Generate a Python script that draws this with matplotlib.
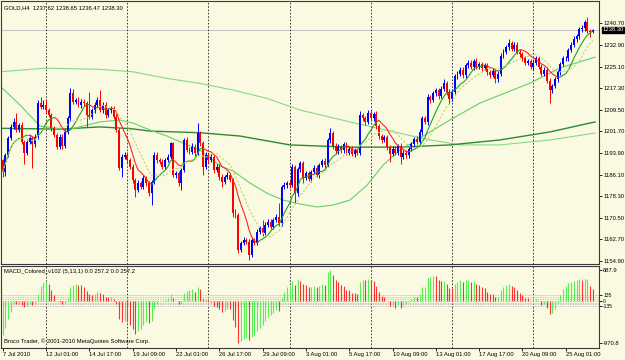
import numpy as np
import pandas as pd
import matplotlib
matplotlib.use("Agg")
import matplotlib.pyplot as plt
from matplotlib.collections import LineCollection
from matplotlib import transforms

plt.rcParams['font.family'] = ['Liberation Sans', 'DejaVu Sans']

# ---------------- data ----------------
first_open = 1191.4
closes = [
    1187.1, 1193.2, 1199.2, 1203.4, 1205.2, 1202.2, 1204.0, 1198.0, 1193.8, 1198.0,
    1199.2, 1197.0, 1199.8, 1211.8, 1210.6, 1211.2, 1209.4, 1207.6, 1202.8, 1200.4,
    1196.2, 1199.8, 1196.4, 1201.6, 1206.4, 1215.4, 1212.4, 1213.0, 1211.2, 1212.4,
    1211.8, 1207.6, 1207.0, 1209.4, 1211.2, 1213.0, 1209.4, 1211.2, 1207.6, 1209.4,
    1210.0, 1207.0, 1202.2, 1188.4, 1192.6, 1193.2, 1191.3, 1189.0, 1184.1, 1180.5,
    1183.0, 1181.7, 1184.7, 1183.0, 1179.3, 1183.5, 1193.2, 1191.3, 1190.7, 1189.0,
    1191.3, 1192.6, 1197.4, 1185.9, 1186.5, 1182.9, 1187.7, 1198.6, 1195.0, 1194.4,
    1196.2, 1193.8, 1201.0, 1197.4, 1188.9, 1193.2, 1191.3, 1192.6, 1187.7, 1189.0,
    1185.3, 1183.5, 1185.3, 1185.9, 1184.1, 1172.1, 1171.5, 1158.9, 1161.3, 1162.5,
    1161.9, 1157.1, 1162.5, 1161.5, 1165.5, 1166.7, 1164.9, 1167.9, 1169.1, 1167.3,
    1169.7, 1170.9, 1168.5, 1181.7, 1182.3, 1182.9, 1182.3, 1188.9, 1179.3, 1188.0,
    1190.2, 1185.0, 1186.5, 1184.5, 1187.0, 1188.5, 1186.0, 1189.5, 1191.0, 1189.5,
    1198.5, 1201.0, 1196.5, 1194.5, 1196.0, 1194.8, 1197.0, 1194.0, 1195.5, 1193.5,
    1195.0, 1194.0, 1207.5, 1206.5, 1205.0, 1208.5, 1206.5, 1208.0, 1203.5, 1200.0,
    1198.5, 1199.5, 1196.0, 1193.5, 1195.5, 1194.0, 1196.5, 1192.5, 1194.0, 1193.0,
    1195.5, 1197.0, 1199.0, 1198.0, 1201.5, 1206.5, 1205.0, 1214.0, 1213.0, 1215.5,
    1216.5, 1214.5, 1217.0, 1219.0, 1216.0, 1213.5, 1216.0, 1221.5, 1222.5, 1224.0,
    1222.0, 1225.5, 1226.5, 1225.0, 1227.0, 1225.0, 1226.0, 1224.5, 1225.5, 1223.0,
    1222.0, 1223.5, 1220.5, 1222.5, 1229.0, 1230.5, 1232.0, 1233.5, 1231.5, 1233.0,
    1230.5, 1229.5, 1228.0, 1226.5, 1227.0, 1225.0, 1226.5, 1228.0, 1225.0, 1222.5,
    1224.0, 1220.0, 1216.5, 1218.0, 1220.5, 1223.0, 1226.0, 1228.0, 1228.0, 1231.0,
    1233.0, 1235.0, 1236.0, 1238.5, 1239.0, 1241.0, 1238.0, 1237.62, 1238.3,
]
upper_wick = [
    0.5, 0.8, 0.9, 0.8, 1.2, 3.0, 0.8, 0.9, 0.7, 0.9,
    0.8, 1.0, 0.8, 1.2, 2.4, 1.8, 2.0, 0.9, 0.8, 0.8,
    0.7, 0.9, 0.9, 0.8, 0.9, 1.8, 1.5, 0.9, 1.2, 0.8,
    0.9, 0.8, 8.4, 0.9, 1.0, 1.2, 3.6, 1.0, 1.2, 0.9,
    1.0, 0.8, 0.8, 0.7, 0.8, 1.2, 0.9, 0.7, 0.8, 0.6,
    1.0, 0.9, 1.2, 0.8, 0.7, 0.8, 1.0, 1.2, 0.8, 0.9,
    0.8, 1.0, 0.6, 0.5, 1.0, 0.8, 0.9, 0.8, 1.0, 0.9,
    1.2, 0.8, 3.6, 0.9, 0.7, 1.0, 0.8, 0.9, 0.7, 1.0,
    0.8, 0.9, 0.8, 1.0, 0.9, 0.6, 1.5, 0.6, 0.9, 1.0,
    0.8, 0.8, 1.0, 0.8, 1.0, 0.9, 3.0, 1.0, 0.9, 0.8,
    0.9, 1.0, 4.8, 0.8, 1.0, 0.9, 1.2, 1.0, 0.8, 1.0,
    0.9, 0.8, 0.9, 1.0, 0.8, 0.9, 1.0, 0.8, 0.9, 1.0,
    0.9, 2.0, 0.8, 0.9, 1.0, 0.8, 0.9, 1.0, 0.8, 0.9,
    0.8, 0.9, 1.5, 0.9, 0.8, 1.0, 0.9, 0.8, 0.9, 1.0,
    0.8, 0.9, 1.0, 0.8, 0.9, 1.0, 0.8, 0.9, 1.0, 0.8,
    0.9, 1.0, 0.8, 0.9, 1.0, 0.8, 0.9, 1.2, 0.8, 0.9,
    1.0, 0.8, 0.9, 1.5, 0.8, 0.9, 1.0, 0.8, 0.9, 1.0,
    0.8, 0.9, 1.0, 0.8, 0.9, 1.0, 0.8, 0.9, 1.0, 0.8,
    0.9, 1.0, 0.8, 0.9, 1.0, 0.8, 1.0, 1.5, 0.8, 0.9,
    1.0, 0.8, 0.9, 1.0, 0.8, 0.9, 1.0, 0.8, 0.9, 1.0,
    0.8, 0.9, 1.0, 0.8, 0.9, 1.0, 0.8, 0.9, 1.0, 0.8,
    0.9, 1.0, 0.8, 0.9, 1.0, 0.8, 2.0, 0.5, 0.35,
]
lower_wick = [
    1.8, 1.5, 0.8, 0.8, 0.9, 0.8, 0.7, 0.9, 3.8, 0.8,
    0.9, 8.5, 0.9, 0.8, 0.9, 0.8, 0.9, 0.8, 0.9, 0.8,
    1.0, 0.8, 1.0, 0.8, 0.7, 0.8, 0.9, 0.7, 0.8, 0.9,
    0.8, 4.2, 1.0, 0.8, 0.9, 0.7, 0.8, 0.9, 1.0, 0.8,
    0.9, 0.8, 0.9, 0.6, 3.1, 0.8, 0.9, 0.8, 1.0, 2.4,
    0.8, 0.9, 0.8, 0.9, 1.0, 4.2, 0.8, 0.9, 0.8, 1.0,
    0.9, 0.8, 0.9, 0.8, 0.9, 1.0, 2.4, 0.8, 0.9, 1.0,
    0.8, 0.9, 0.8, 0.9, 3.0, 0.8, 0.9, 0.8, 0.9, 0.8,
    1.0, 1.8, 0.8, 0.9, 0.8, 1.2, 0.9, 1.2, 0.9, 0.8,
    1.0, 1.8, 0.8, 0.9, 0.8, 0.9, 0.8, 0.9, 0.8, 1.0,
    0.8, 0.9, 0.8, 0.9, 0.8, 0.9, 1.0, 0.8, 3.6, 0.9,
    0.9, 2.0, 0.8, 0.9, 1.0, 0.8, 0.9, 1.0, 0.8, 0.9,
    0.8, 0.9, 1.0, 0.8, 0.9, 1.0, 0.8, 0.9, 1.0, 0.8,
    0.9, 1.0, 0.8, 0.9, 1.0, 0.8, 0.9, 1.0, 0.8, 0.9,
    1.0, 0.8, 0.9, 3.0, 0.8, 0.9, 1.0, 2.5, 0.9, 1.0,
    0.8, 0.9, 1.0, 0.8, 0.9, 1.0, 0.8, 0.9, 1.0, 0.8,
    0.9, 1.0, 0.8, 0.9, 1.0, 2.0, 0.8, 0.9, 1.0, 0.8,
    0.9, 1.0, 0.8, 0.9, 1.0, 0.8, 0.9, 1.0, 0.8, 0.9,
    1.0, 0.8, 1.5, 0.9, 1.0, 0.8, 0.9, 1.0, 0.8, 0.9,
    1.0, 0.8, 0.9, 1.0, 0.8, 0.9, 1.0, 0.8, 0.9, 1.0,
    0.8, 0.9, 4.5, 1.0, 0.8, 0.9, 1.0, 0.8, 0.9, 1.0,
    0.8, 0.9, 1.0, 0.8, 0.9, 1.0, 0.8, 2.0, 0.3,
]
macd_hist = [
    -790, -620, -430, -260, -60, -90, -70, -110, -140, -120,
    -90, -100, -70, 150, 330, 430, 450, 390, 250, 130,
    -20, -40, -90, -50, 60, 300, 360, 390, 360, 350,
    320, 220, 150, 130, 150, 190, 170, 160, 90, 80,
    90, 40, -80, -420, -480, -470, -500, -560, -650, -760,
    -700, -660, -560, -500, -520, -470, -200, -90, -20, -10,
    20, 50, 150, 60, 0, -80, -60, 170, 220, 230,
    260, 200, 300, 260, 30, 10, -30, -40, -120, -140,
    -200, -260, -230, -190, -200, -450, -600, -970.8, -920, -880,
    -860, -900, -830, -780, -700, -620, -560, -460, -380, -340,
    -280, -220, -240, 60, 200, 300, 330, 450, 350, 500,
    450, 380, 360, 300, 320, 330, 300, 330, 370, 360,
    650, 687.9, 580, 480, 420, 360, 330, 250, 230, 180,
    170, 150, 430, 470, 460, 500, 460, 450, 340, 200,
    100, 70, -20, -130, -120, -180, -100, -160, -100, -90,
    -30, 30, 90, 80, 160, 300, 310, 520, 540, 570,
    560, 470, 440, 450, 380, 290, 280, 380, 430, 470,
    430, 460, 480, 430, 440, 380, 360, 300, 280, 200,
    150, 140, 80, 90, 250, 300, 350, 380, 330, 320,
    250, 180, 120, 60, 50, 0, 10, 30, -20, -100,
    -90, -170, -300, -280, -200, -60, 120, 260, 330, 400,
    430, 450, 470, 500, 470, 490, 490, 330, 257.2,
]

# long moving averages, read as (bar index, price) points
ma_top_bars = [-1, 15.6, 35.9, 48.1, 60.7, 72.9, 85.1, 97.6, 109.8, 128.3, 146.8, 157.9, 169.0, 183.7, 202.2, 218.8]
ma_top_vals = [1223.2, 1224.5, 1224.1, 1223.2, 1220.8, 1219.0, 1216.6, 1213.6, 1209.4, 1205.1, 1201.0, 1198.6, 1196.8, 1196.8, 1198.6, 1201.1]
ma_dark_bars = [-1, 21.2, 35.9, 47.0, 54.4, 72.9, 87.7, 106.1, 128.3, 146.8, 165.2, 183.7, 202.2, 218.8]
ma_dark_vals = [1202.8, 1202.5, 1203.3, 1202.7, 1201.8, 1201.2, 1200.0, 1196.8, 1196.0, 1196.0, 1196.8, 1198.6, 1201.5, 1205.1]
ma_mid_bars = [-1, 6.4, 13.8, 23.8, 35.9, 43.3, 48.1, 54.4, 60.7, 66.6, 72.9, 80.3, 85.1, 91.4, 97.6,
               103.5, 109.8, 116.1, 122.0, 128.3, 134.6, 140.5, 146.8, 154.2, 165.2, 176.3, 183.7, 194.8, 205.9, 218.8]
ma_mid_vals = [1218.1, 1211.2, 1203.6, 1202.2, 1205.1, 1205.8, 1204.7, 1202.2, 1200.0, 1197.5, 1195.0, 1189.2, 1187.4, 1183.0, 1179.4,
               1176.9, 1175.5, 1174.4, 1175.1, 1176.9, 1182.3, 1189.5, 1195.0, 1199.3, 1205.8, 1211.9, 1214.8, 1219.1, 1224.6, 1228.5]

date_tick_bars = [0, 16, 32, 48, 64, 80, 96, 112, 128, 144, 160, 176, 192, 208]
date_tick_labels = ["7 Jul 2010", "12 Jul 01:00", "14 Jul 17:00", "19 Jul 09:00", "22 Jul 01:00",
                    "26 Jul 17:00", "29 Jul 09:00", "3 Aug 01:00", "5 Aug 17:00", "10 Aug 09:00",
                    "13 Aug 01:00", "17 Aug 17:00", "20 Aug 09:00", "25 Aug 01:00"]
week_sep_bars = [16, 46, 76, 106, 136, 166, 196]
price_ticks = [1240.70, 1232.90, 1225.10, 1217.30, 1209.50, 1201.70, 1193.90,
               1186.10, 1178.30, 1170.50, 1162.70, 1154.90]
macd_levels = [135, 90, 45, 0, -45, -90, -135]
macd_level_labels = [135, 0, -135]
macd_scale_labels = [687.9, -970.8]
bid_price = 1238.30

# ---------------- figure ----------------
BG = '#FAFAE2'
FS = 4.2
W, H = 625, 360
fig = plt.figure(figsize=(6.25, 3.6), dpi=100, facecolor=BG)


def rect(l, t, r, b):
    return [l / W, 1 - b / H, (r - l) / W, (b - t) / H]


ax = fig.add_axes(rect(1.5, 1.0, 599.3, 263.5), facecolor=BG)
ax2 = fig.add_axes(rect(1.5, 265.5, 599.3, 347.5), facecolor=BG)

n = len(closes)
x = np.arange(n)
c = np.array(closes, dtype=float)
o = np.concatenate([[first_open], c[:-1]])
hi = np.maximum(o, c) + np.array(upper_wick)
lo = np.minimum(o, c) - np.array(lower_wick)
up = c >= o
cols = np.where(up, '#0000FF', '#FF0000')

# long MAs
ax.plot(ma_top_bars, ma_top_vals, color='#86D886', lw=0.8, zorder=2)
ax.plot(ma_dark_bars, ma_dark_vals, color='#2F8A2F', lw=1.0, zorder=2)
ax.plot(ma_mid_bars, ma_mid_vals, color='#66D066', lw=0.8, zorder=2)

# candles
ax.vlines(x, lo, hi, colors=cols, lw=0.7, zorder=3)
body = np.where(np.abs(c - o) < 0.3, 0.3, c - o)
ax.bar(x, body, bottom=o, width=0.72, color=cols, linewidth=0, zorder=3)

# short MAs built from the closes
s = pd.Series(c)
ma_fast = s.rolling(8, min_periods=1).mean().values
ma_slow = s.rolling(13, min_periods=1).mean().values
segs = [[(i - 1, ma_fast[i - 1]), (i, ma_fast[i])] for i in range(1, n)]
seg_cols = ['#FF2020' if ma_fast[i] < ma_fast[i - 1] else '#1E9E1E' for i in range(1, n)]
ax.add_collection(LineCollection(segs, colors=seg_cols, linewidths=0.8, zorder=4))
ax.plot(x, ma_slow, color='#C6D270', lw=0.8, ls=(0, (2, 1.5)), zorder=4)

# bid line
ax.axhline(bid_price, color='#B8B8B8', lw=0.6, zorder=1)

ax.set_xlim(-0.44, 220.39)
ax.set_ylim(1154.0, 1248.75)
ax2.set_xlim(-0.44, 220.39)
ax2.set_ylim(-1073.1, 801.5)

for b in week_sep_bars:
    ax.axvline(b, color='#202020', lw=0.6, ls=(0, (2, 2)), zorder=1)
    ax2.axvline(b, color='#202020', lw=0.6, ls=(0, (2, 2)), zorder=1)

# MACD histogram
mh = np.array(macd_hist, dtype=float)
prev = np.concatenate([[mh[0]], mh[:-1]])
mcols = np.where(mh >= prev, '#55EE55', '#FF3030')
for lv in macd_levels:
    ax2.axhline(lv, color='#B0B0B0', lw=0.6, ls=(0, (1, 1)), zorder=1)
ax2.vlines(x, 0, mh, colors=mcols, lw=0.8, zorder=3)

# axes styling
for a in (ax, ax2):
    for sp in a.spines.values():
        sp.set_color('#3A3A3A')
        sp.set_linewidth(0.8)
    a.yaxis.tick_right()
    a.tick_params(axis='y', direction='out', length=2.3, width=0.6, pad=0.5,
                  labelsize=FS, colors='#000000')

ax.set_xticks([])
ax.set_yticks(price_ticks)
ax.set_yticklabels([f"{p:.2f}" for p in price_ticks])

m_ticks = [macd_scale_labels[0]] + macd_level_labels + [macd_scale_labels[1]]
ax2.set_yticks(m_ticks)
ax2.set_yticklabels([f"{v:g}" if abs(v) < 600 else f"{v:.1f}" for v in m_ticks])
for t in ax2.get_yticklabels()[1:-1]:
    t.set_fontsize(3.6)

ax2.set_xticks(date_tick_bars)
ax2.set_xticklabels(date_tick_labels)
ax2.tick_params(axis='x', direction='out', length=2.5, width=0.6, pad=1.0, labelsize=FS)
for t in ax2.get_xticklabels():
    t.set_ha('left')

# bid label
tr = transforms.blended_transform_factory(ax.transAxes, ax.transData)
ax.text(1.005, bid_price, f"{bid_price:.2f}", transform=tr, fontsize=FS, color='white',
        va='center', ha='left', clip_on=False, zorder=10,
        bbox=dict(boxstyle='square,pad=0.12', facecolor='black', edgecolor='black'))

# texts
fig.text(4 / W, 1 - 8 / H, "GOLD,H4  1237.62 1238.65 1236.47 1238.30", fontsize=FS, va='center', ha='left')
fig.text(4 / W, 1 - 272 / H, "MACD_Colored_v102 (5,13,1) 0.0 257.2 0.0 257.2", fontsize=FS, va='center', ha='left')
fig.text(4 / W, 1 - 341 / H, "Broco Trader, \u00a9 2001-2010 MetaQuotes Software Corp.", fontsize=FS, va='center', ha='left')

fig.savefig("out.png", dpi=100, facecolor=BG)
